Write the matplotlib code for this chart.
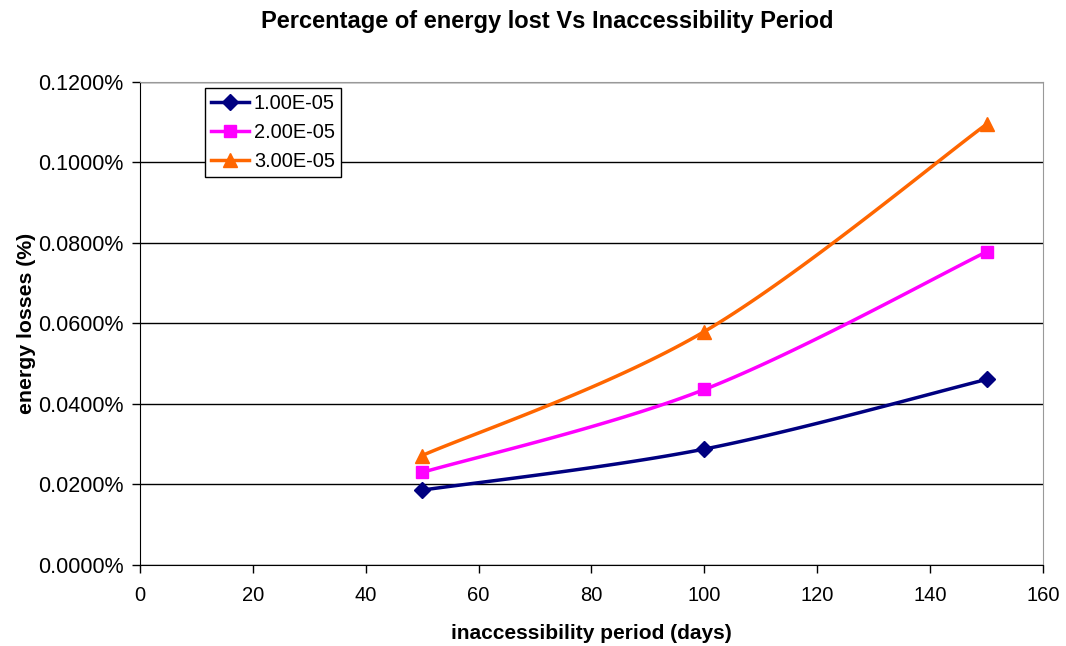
import numpy as np
import matplotlib.pyplot as plt
from matplotlib.ticker import PercentFormatter

plt.rcParams['font.family'] = ['Liberation Sans', 'DejaVu Sans']

# inaccessibility period in days
days = [50, 100, 150]
# energy losses as fractions (shown as percentages)
loss_1e5 = [0.000186, 0.000288, 0.000461]
loss_2e5 = [0.000230, 0.000436, 0.000778]
loss_3e5 = [0.000272, 0.000580, 0.001095]
labels = ["1.00E-05", "2.00E-05", "3.00E-05"]


def smooth(x, y, n=40):
    # Catmull-Rom curve through the points, written as cubic Beziers
    p = np.column_stack([x, y]).astype(float)
    pts = [p[0]]
    for i in range(len(p) - 1):
        p0 = p[i - 1] if i > 0 else p[i]
        p1, p2 = p[i], p[i + 1]
        p3 = p[i + 2] if i + 2 < len(p) else p[i + 1]
        c1 = p1 + (p2 - p0) / 6
        c2 = p2 - (p3 - p1) / 6
        t = np.linspace(0, 1, n)[1:, None]
        seg = ((1 - t) ** 3) * p1 + 3 * ((1 - t) ** 2) * t * c1 \
            + 3 * (1 - t) * t ** 2 * c2 + t ** 3 * p2
        pts.extend(seg)
    pts = np.array(pts)
    return pts[:, 0], pts[:, 1]


fig = plt.figure(figsize=(10.66, 6.46), dpi=100)
ax = fig.add_axes([0.1313, 0.1254, 0.8471, 0.7477])

series = [
    (loss_1e5, "#000080", "D", 8),
    (loss_2e5, "#FF00FF", "s", 9),
    (loss_3e5, "#FF6600", "^", 10),
]
handles = []
for (vals, color, marker, ms), lab in zip(series, labels):
    sx, sy = smooth(days, vals)
    ax.plot(sx, sy, color=color, lw=2.5, zorder=3)
    ax.plot(days, vals, ls="none", marker=marker, ms=ms, color=color,
            zorder=4)
    h, = ax.plot([], [], color=color, lw=2.5, marker=marker, ms=ms, label=lab)
    handles.append(h)

ax.set_xlim(0, 160)
ax.set_ylim(0, 0.0012)
ax.set_xticks(np.arange(0, 161, 20))
ax.set_yticks(np.arange(0, 0.00121, 0.0002))
ax.yaxis.set_major_formatter(PercentFormatter(xmax=1, decimals=4))
ax.grid(axis="y", color="black", lw=1)
ax.set_axisbelow(True)

for side in ["top", "right"]:
    ax.spines[side].set_color("#999999")
for side in ["left", "bottom"]:
    ax.spines[side].set_color("black")
ax.tick_params(direction="out", length=6, width=1, colors="black")
ax.tick_params(axis="y", labelsize=15.5, pad=6)
ax.tick_params(axis="x", labelsize=14.5, pad=9)

ax.set_xlabel("inaccessibility period (days)", fontsize=15, fontweight="bold",
              labelpad=14)
ax.set_ylabel("energy losses (%)", fontsize=15.3, fontweight="bold",
              labelpad=1)
fig.suptitle("Percentage of energy lost Vs Inaccessibility Period",
             fontsize=17, fontweight="bold", x=0.513, y=0.985)

leg = ax.legend(handles=handles, loc="upper left",
                bbox_to_anchor=(0.072, 0.987), fontsize=14.4, frameon=True,
                fancybox=False, edgecolor="black", framealpha=1,
                handlelength=1.9, borderpad=0.3, labelspacing=0.5,
                handletextpad=0.25, borderaxespad=0)
leg.get_frame().set_linewidth(1)

fig.savefig("out.png", dpi=100)
